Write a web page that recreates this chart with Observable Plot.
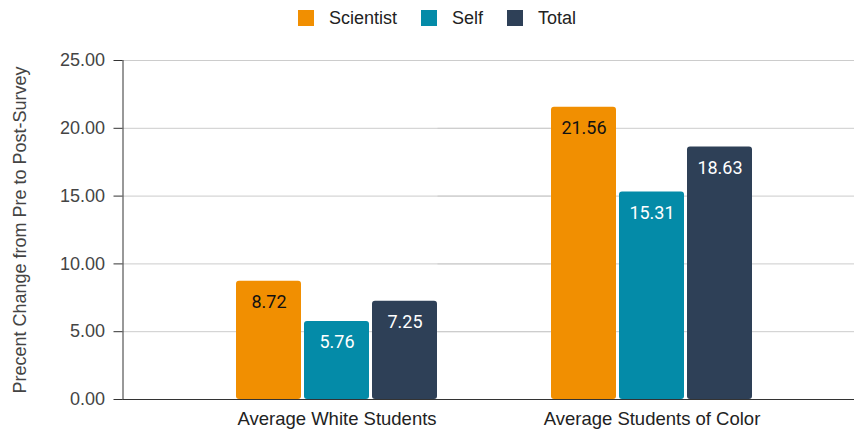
<!DOCTYPE html>
<html>
<head>
<meta charset="utf-8">
<script src="https://cdn.jsdelivr.net/npm/d3@7"></script>
<script src="https://cdn.jsdelivr.net/npm/@observablehq/plot@0.6"></script>
<style>
  html, body { margin: 0; padding: 0; background: #fff; overflow: hidden; }
  #chart { width: 854px; height: 430px; overflow: hidden; }
  .lg-swatches { display: flex; justify-content: center; align-items: center; height: 36px; box-sizing: border-box;
    padding-left: 44px; font-family: "Liberation Sans", Arial, sans-serif; font-size: 18px; color: #222; margin: 0 !important; }
  .lg-swatch { margin-right: 24px !important; }
  .lg-swatch > svg { margin-right: 15px !important; border-radius: 2px; }
</style>
</head>
<body>
<div id="chart"></div>
<script>
const groups = ["Average White Students", "Average Students of Color"];
const series = ["Scientist", "Self", "Total"];
const scientist = [8.72, 21.56];
const self = [5.76, 15.31];
const total = [7.25, 18.63];
const colors = ["#F18F01", "#048BA8", "#2E4057"];
const yTicks = [0, 5, 10, 15, 20, 25];
const yLabel = "Precent Change from Pre to Post-Survey";

const valuesBySeries = [scientist, self, total];
const data = [];
groups.forEach((g, gi) => series.forEach((s, si) => data.push({group: g, series: s, value: valuesBySeries[si][gi]})));

const legend = Plot.legend({
  className: "lg",
  legend: "swatches",
  color: {domain: series, range: colors},
  swatchSize: 16
});

const ext = -56.5;
const chart = Plot.plot({
  width: 854,
  height: 394,
  marginTop: 24,
  marginBottom: 31,
  marginLeft: 122,
  marginRight: 0,
  style: {fontFamily: "Liberation Sans, Arial, sans-serif", fontSize: "18px", color: "#333", overflow: "visible"},
  fx: {domain: groups, range: [178.5, 808.5], padding: 0, axis: null},
  x: {domain: series, paddingInner: 0.05, paddingOuter: 0.824, axis: null},
  y: {domain: [0, 25], axis: null},
  color: {domain: series, range: colors},
  marks: [
    Plot.gridY(yTicks, {stroke: "#ccc", strokeOpacity: 1, insetLeft: ext, insetRight: ext}),
    Plot.axisY({ticks: yTicks, tickFormat: d => d.toFixed(2), tickSize: 9, tickPadding: 9, dx: ext,
      stroke: "#333", fill: "#444", fontSize: 18,
      label: yLabel, labelAnchor: "center", labelOffset: 166, labelArrow: "none"}),
    Plot.frame({anchor: "left", facetAnchor: "left", dx: ext, stroke: "#333"}),
    Plot.axisFx({anchor: "bottom", tickSize: 0, tickPadding: 12, fontSize: 18.5, fill: "#222", label: null}),
    Plot.barY(data, {fx: "group", x: "series", y: "value", fill: "series", rx: 3}),
    Plot.ruleY([0], {stroke: "#333", strokeWidth: 1.2, insetLeft: ext, insetRight: ext}),
    Plot.text(data.filter(d => d.series === "Scientist"), {fx: "group", x: "series", y: "value",
      text: d => d.value.toFixed(2), dy: 21, fill: "#111", fontSize: 18, fontFamily: "Roboto"}),
    Plot.text(data.filter(d => d.series !== "Scientist"), {fx: "group", x: "series", y: "value",
      text: d => d.value.toFixed(2), dy: 21, fill: "#fff", fontSize: 18, fontFamily: "Roboto"})
  ]
});

const root = document.getElementById("chart");
root.appendChild(legend);
root.appendChild(chart);
</script>
</body>
</html>
